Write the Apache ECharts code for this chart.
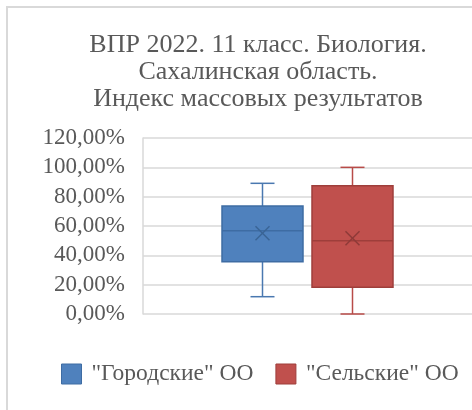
<!DOCTYPE html>
<html>
<head>
<meta charset="utf-8">
<script src="https://cdn.jsdelivr.net/npm/echarts@6/dist/echarts.min.js"></script>
<style>
  body { margin: 0; background: #fff; }
  #frame { position: absolute; left: 6px; top: 6px; width: 500px; height: 420px;
           border-left: 2px solid #d9d9d9; border-top: 2px solid #d9d9d9; }
  #main { position: absolute; left: 0; top: 0; width: 472px; height: 410px; }
</style>
</head>
<body>
<div id="frame"></div>
<div id="main"></div>
<script>
// данные диаграммы (доли, 1 = 100%)
const categories = ["Сахалинская область"];
const seriesNames = ['"Городские" ОО', '"Сельские" ОО'];
// min, Q1, медиана, Q3, max
const urbanStats = [0.118, 0.357, 0.568, 0.736, 0.891];
const urbanMean = 0.55;
const ruralStats = [0.0, 0.182, 0.50, 0.875, 1.0];
const ruralMean = 0.516;
const yTicks = [0, 0.2, 0.4, 0.6, 0.8, 1.0, 1.2];

const palette = [
    { fill: "#4f81bd", border: "#3e6ca3", whisker: "#4a78b0", mark: "#3a6496" },
    { fill: "#c0504d", border: "#9e3e3b", whisker: "#b84b48", mark: "#8e3a38" },
];
const offsets = [-45, 45];
const boxWidth = 81;
const capHalf = 12;
const markHalf = 7;

const fmtPercent = v => (v * 100).toFixed(2).replace(".", ",") + "%";

const renderBox = (params, api) => {
    const c = palette[params.seriesIndex];
    const cat = api.value(0);
    const x = api.coord([cat, 0])[0] + offsets[params.seriesIndex];
    const y = i => api.coord([cat, api.value(i)])[1];
    const yMin = y(1), yQ1 = y(2), yMed = y(3), yQ3 = y(4), yMax = y(5), yMean = y(6);
    const line = (x1, y1, x2, y2, color) => ({
        type: "line",
        shape: { x1, y1, x2, y2 },
        style: { stroke: color, lineWidth: 1.5 },
    });
    return {
        type: "group",
        children: [
            line(x, yQ3, x, yMax, c.whisker),
            line(x, yQ1, x, yMin, c.whisker),
            line(x - capHalf, yMax, x + capHalf, yMax, c.whisker),
            line(x - capHalf, yMin, x + capHalf, yMin, c.whisker),
            {
                type: "rect",
                shape: { x: x - boxWidth / 2, y: yQ3, width: boxWidth, height: yQ1 - yQ3 },
                style: { fill: c.fill, stroke: c.border, lineWidth: 1.5 },
            },
            line(x - boxWidth / 2, yMed, x + boxWidth / 2, yMed, c.border),
            line(x - markHalf, yMean - markHalf, x + markHalf, yMean + markHalf, c.mark),
            line(x - markHalf, yMean + markHalf, x + markHalf, yMean - markHalf, c.mark),
        ],
    };
};

const chart = echarts.init(document.getElementById("main"));

const option = {
    backgroundColor: "transparent",
    animation: false,
    textStyle: { fontFamily: "Liberation Serif" },
    title: {
        text: "ВПР 2022. 11 класс. Биология.\nСахалинская область.\nИндекс массовых результатов",
        left: 258,
        top: 32,
        padding: 0,
        textAlign: "center",
        textStyle: {
            fontFamily: "Liberation Serif",
            fontSize: 26,
            fontWeight: "normal",
            color: "#595959",
            lineHeight: 27,
        },
    },
    legend: {
        left: 61,
        top: 362,
        padding: 0,
        icon: "rect",
        itemWidth: 20,
        itemHeight: 20,
        itemGap: 22,
        textStyle: {
            fontFamily: "Liberation Serif",
            fontSize: 23.5,
            color: "#595959",
            padding: [0, 0, 0, 5],
        },
        data: seriesNames.map((name, i) => ({
            name,
            itemStyle: { color: palette[i].fill, borderColor: palette[i].border, borderWidth: 1 },
        })),
    },
    grid: { left: 143, top: 138, width: 344, height: 176 },
    xAxis: {
        type: "category",
        data: categories,
        axisLine: { show: false },
        axisTick: { show: false },
        axisLabel: { show: false },
    },
    yAxis: {
        type: "value",
        min: yTicks[0],
        max: yTicks[yTicks.length - 1],
        interval: 0.2,
        axisLine: { show: true, lineStyle: { color: "#d9d9d9", width: 1.5 } },
        axisTick: { show: false },
        axisLabel: {
            formatter: fmtPercent,
            fontFamily: "Liberation Serif",
            fontSize: 23,
            color: "#595959",
            margin: 18,
            padding: [3, 0, 0, 0],
        },
        splitLine: { lineStyle: { color: "#d9d9d9", width: 1.5 } },
    },
    series: [
        {
            name: seriesNames[0],
            type: "custom",
            itemStyle: { color: palette[0].fill },
            renderItem: renderBox,
            data: [[0, ...urbanStats, urbanMean]],
        },
        {
            name: seriesNames[1],
            type: "custom",
            itemStyle: { color: palette[1].fill },
            renderItem: renderBox,
            data: [[0, ...ruralStats, ruralMean]],
        },
    ],
};

chart.setOption(option);
</script>
</body>
</html>
